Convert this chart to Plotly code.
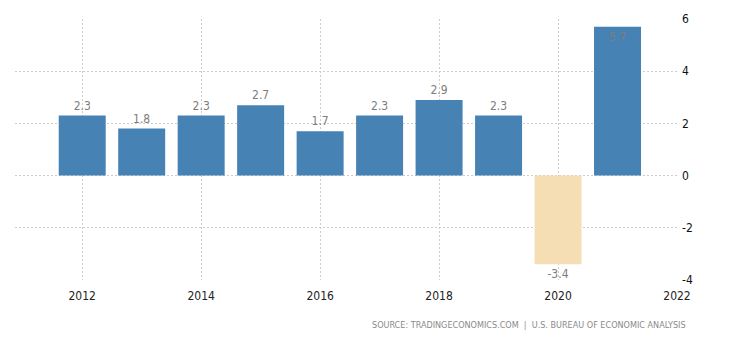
import plotly.graph_objects as go

years = [2012, 2013, 2014, 2015, 2016, 2017, 2018, 2019, 2020, 2021]
values = [2.3, 1.8, 2.3, 2.7, 1.7, 2.3, 2.9, 2.3, -3.4, 5.7]
labels = ["2.3", "1.8", "2.3", "2.7", "1.7", "2.3", "2.9", "2.3", "-3.4", "5.7"]
x_ticks = [2012, 2014, 2016, 2018, 2020, 2022]
y_ticks = [-4, -2, 0, 2, 4, 6]
y_tick_text = ["-4", "-2", "0", "2", "4", "6"]
source = "SOURCE: TRADINGECONOMICS.COM  |  U.S. BUREAU OF ECONOMIC ANALYSIS"

colors = ["#4682B4" if v >= 0 else "#F5DEB3" for v in values]
positions = ["inside" if v > 5 else "outside" for v in values]

fig = go.Figure(go.Bar(
    x=years, y=values, width=0.79,
    marker=dict(color=colors, line=dict(width=0)),
    text=labels, textposition=positions, insidetextanchor="end",
    textfont=dict(color="#7d7d7d", size=12, family="DejaVu Sans Condensed, DejaVu Sans"),
    cliponaxis=False, hoverinfo="skip",
))

grid = dict(showgrid=True, gridcolor="#cccccc", griddash="2px,2px", gridwidth=1)
fig.update_layout(
    width=730, height=340,
    margin=dict(l=15, r=53, t=19, b=60),
    paper_bgcolor="white", plot_bgcolor="white",
    showlegend=False,
    font=dict(family="DejaVu Sans Condensed, DejaVu Sans", color="#222"),
    xaxis=dict(range=[2010.87, 2022], tickvals=x_ticks, ticktext=[str(t) for t in x_ticks],
               zeroline=False, showline=False, ticks="", ticklabelstandoff=7,
               tickfont=dict(size=12, color="#222"), **grid),
    yaxis=dict(range=[-4, 6], tickvals=y_ticks, ticktext=y_tick_text, side="right",
               zeroline=False, showline=False, ticks="", ticklabelstandoff=4,
               tickfont=dict(size=12, color="#111"), **grid),
    annotations=[dict(text=source, xref="paper", yref="paper", x=1.017, y=-0.172,
                      xanchor="right", yanchor="middle", showarrow=False,
                      font=dict(size=9, color="#8a8a8a", family="DejaVu Sans Condensed, DejaVu Sans"))],
)
fig.write_html("out.html")
